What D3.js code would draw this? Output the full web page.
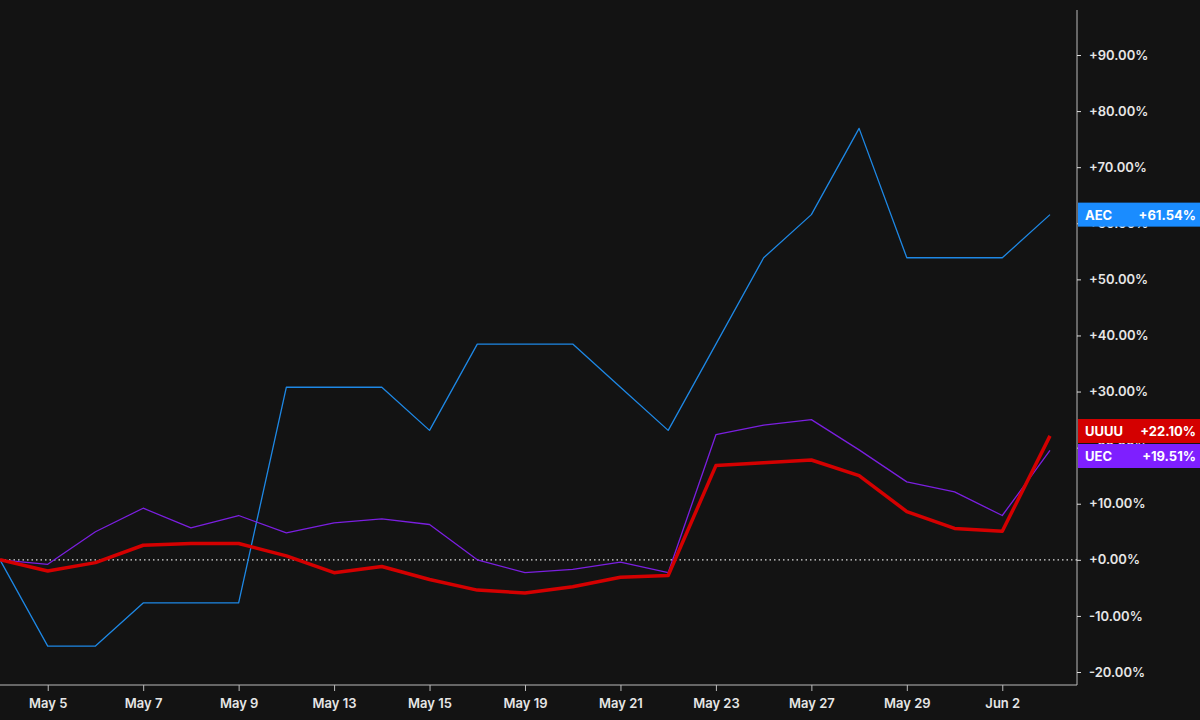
<!DOCTYPE html>
<html><head><meta charset="utf-8">
<script src="https://cdn.jsdelivr.net/npm/d3@7"></script>
<style>body{margin:0;background:#131313}text{font-family:Inter,"Noto Sans",sans-serif}</style>
</head><body><svg id="chart" width="1200" height="720"></svg>
<script>
////      DATA      ////
const dates = ["May 2","May 5","May 6","May 7","May 8","May 9","May 12","May 13","May 14","May 15","May 16","May 19","May 20","May 21","May 22","May 23","May 26","May 27","May 28","May 29","May 30","Jun 2","Jun 3"]
const tickDates = ["May 5","May 7","May 9","May 13","May 15","May 19","May 21","May 23","May 27","May 29","Jun 2"]
const aec = [0,-15.38,-15.38,-7.69,-7.69,-7.69,30.77,30.77,30.77,23.08,38.46,38.46,38.46,30.77,23.08,38.46,53.85,61.54,76.92,53.85,53.85,53.85,61.54]
const uec = [0,-0.8,5.0,9.2,5.7,7.9,4.8,6.6,7.3,6.3,0,-2.3,-1.7,-0.4,-2.3,22.3,24.0,25.0,19.6,13.9,12.1,7.9,19.51]
const uuuu = [0,-2.0,-0.5,2.6,2.9,2.9,0.7,-2.3,-1.2,-3.5,-5.4,-5.9,-4.8,-3.1,-2.8,16.8,17.3,17.8,15.0,8.6,5.6,5.1,22.10]
const yTicks = [-20,-10,0,10,20,30,40,50,60,70,80,90]
const series = [
    {name: "AEC", values: aec, color: "#1e88e5", badge: "#1a8cff", width: 1.3},
    {name: "UEC", values: uec, color: "#7b1fe0", badge: "#7e1fff", width: 1.3},
    {name: "UUUU", values: uuuu, color: "#d40000", badge: "#d40000", width: 3.5}
]

////      SETUP      ////
const svg = d3.select("#chart")
svg.append("rect").attr("width", 1200).attr("height", 720).attr("fill", "#131313")

const x = d3.scalePoint().domain(dates).range([0, 1050])
const y = d3.scaleLinear().domain([-20, 90]).range([672, 55])
const fmt = v => (v >= 0 ? "+" : "") + v.toFixed(2) + "%"

// x axis
const xAxis = svg.append("g").attr("transform", "translate(0,685)")
    .call(d3.axisBottom(x).tickValues(tickDates).tickSize(6).tickPadding(8))
xAxis.select(".domain").attr("stroke", "#bbb").attr("d", "M0,0H1077")
xAxis.selectAll(".tick line").attr("stroke", "#bbb")
xAxis.selectAll("text").attr("fill", "#e6e6e6").attr("font-size", 13).attr("font-weight", 600)

// y axis
const yAxis = svg.append("g").attr("transform", "translate(1077,0)")
    .call(d3.axisRight(y).tickValues(yTicks).tickSize(4).tickPadding(8).tickFormat(fmt))
yAxis.select(".domain").attr("stroke", "#bbb").attr("d", "M0,10V685")
yAxis.selectAll(".tick line").attr("stroke", "#ddd")
yAxis.selectAll("text").attr("fill", "#e6e6e6").attr("font-size", 13).attr("font-weight", 600)

// zero line
svg.append("line").attr("x1", 0).attr("x2", 1077).attr("y1", y(0)).attr("y2", y(0))
    .attr("stroke", "#ddd").attr("stroke-dasharray", "1.5,3").attr("stroke-width", 1.2)

// lines
const line = d3.line().x((d, i) => x(dates[i])).y(d => y(d))
series.forEach(s => {
    svg.append("path").datum(s.values).attr("d", line)
        .attr("fill", "none").attr("stroke", s.color).attr("stroke-width", s.width)
        .attr("stroke-linejoin", "round")
})

// badges
const badgeY = {AEC: y(61.54), UUUU: 431, UEC: 456}
series.forEach(s => {
    const g = svg.append("g").attr("transform", `translate(1078,${badgeY[s.name] - 12})`)
    g.append("rect").attr("width", 122).attr("height", 24).attr("fill", s.badge)
    g.append("text").attr("x", 7).attr("y", 17).text(s.name)
        .attr("fill", "#fff").attr("font-size", 13).attr("font-weight", 700)
    g.append("text").attr("x", 118).attr("y", 17).attr("text-anchor", "end").text(fmt(s.values[s.values.length - 1]))
        .attr("fill", "#fff").attr("font-size", 13).attr("font-weight", 700)
})
</script></body></html>
